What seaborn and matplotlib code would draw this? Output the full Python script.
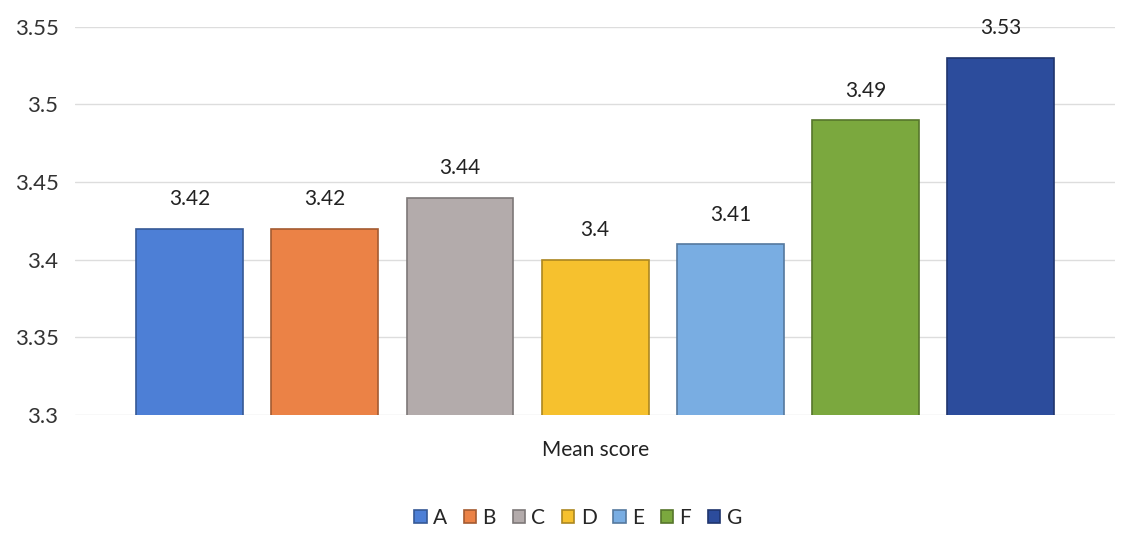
import pandas as pd
import numpy as np
import matplotlib
matplotlib.use("Agg")
import matplotlib.pyplot as plt
import matplotlib.colors as mcolors
import seaborn as sns

# ── data ─────────────────────────────────────────────────────────────────────
groups = ['A', 'B', 'C', 'D', 'E', 'F', 'G']
scores = [3.42, 3.42, 3.44, 3.40, 3.41, 3.49, 3.53]
category = 'Mean score'
colors = ['#4d7fd6', '#eb8246', '#b3abab', '#f6c12e', '#79ade2', '#7ba83e', '#2c4c9c']

df = pd.DataFrame({'cat': [category] * len(groups), 'group': groups, 'score': scores})

# ── plot ─────────────────────────────────────────────────────────────────────
sns.set_theme(style='white')
plt.rcParams['font.family'] = ['Lato', 'DejaVu Sans']

fig = plt.figure(figsize=(11.38, 5.35), dpi=100)
ax = fig.add_axes([0.066, 0.224, 0.914, 0.726])

sns.barplot(data=df, x='cat', y='score', hue='group', hue_order=groups,
            palette=colors, saturation=1, width=0.91, gap=0.21, ax=ax, legend=True)

for p in ax.patches:
    fc = np.array(mcolors.to_rgb(p.get_facecolor()))
    p.set_edgecolor(fc * 0.7)
    p.set_linewidth(1.2)

for c in ax.containers:
    ax.bar_label(c, fmt='{:g}', padding=14, fontsize=15, color='#222222')

ax.set_ylim(3.3, 3.55)
ax.set_xlim(-0.5, 0.5)
ax.set_yticks([3.3, 3.35, 3.4, 3.45, 3.5, 3.55])
ax.set_yticklabels(['3.3', '3.35', '3.4', '3.45', '3.5', '3.55'])
ax.yaxis.grid(True, color='#dddddd', linewidth=1)
ax.set_axisbelow(True)
ax.tick_params(axis='y', length=0, labelsize=16, labelcolor='#333333', pad=12)
ax.tick_params(axis='x', length=0, labelsize=15, labelcolor='#222222', pad=18)
ax.set_xlabel('')
ax.set_ylabel('')
sns.despine(ax=ax, left=True, bottom=True)

ax.legend(loc='center', bbox_to_anchor=(0.508, 0.032), bbox_transform=fig.transFigure,
          ncol=7, frameon=False, fontsize=15, handlelength=0.6, handleheight=0.6,
          handletextpad=0.3, columnspacing=0.8)

fig.savefig('out.png', dpi=100, facecolor='white')
